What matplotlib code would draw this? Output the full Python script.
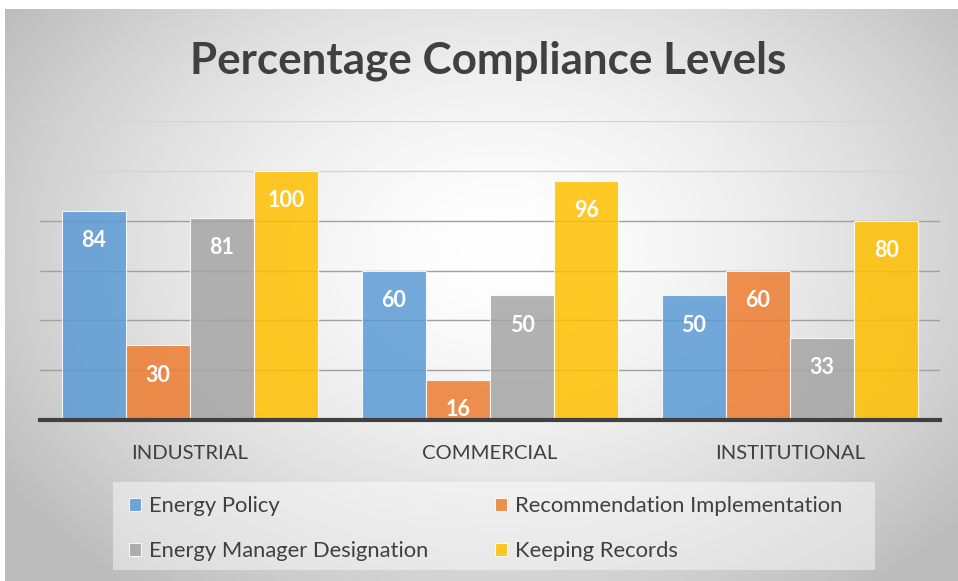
import numpy as np
import matplotlib
matplotlib.use("Agg")
import matplotlib.pyplot as plt
from matplotlib.patches import Rectangle

categories = ["INDUSTRIAL", "COMMERCIAL", "INSTITUTIONAL"]
series_names = ["Energy Policy", "Recommendation Implementation",
                "Energy Manager Designation", "Keeping Records"]
energy_policy = [84, 60, 50]
recommendation_impl = [30, 16, 60]
manager_designation = [81, 50, 33]
keeping_records = [100, 96, 80]
series_values = [energy_policy, recommendation_impl, manager_designation, keeping_records]
colors = ["#5B9BD5", "#ED7D31", "#A5A5A5", "#FFC000"]
yticks = [0, 20, 40, 60, 80, 100, 120]

FONT = ["Lato", "DejaVu Sans"]

fig = plt.figure(figsize=(9.58, 5.81), dpi=100)
fig.patch.set_facecolor("white")

# background radial gradient
bg = fig.add_axes([5/958, 0, 1 - 5/958, (581 - 9)/581])
bg.set_axis_off()
h, w = 300, 500
yy, xx = np.mgrid[0:h, 0:w]
cx, cy = 0.52 * w, 0.42 * h
r = np.sqrt(((xx - cx) / (0.62 * w)) ** 2 + ((yy - cy) / (0.75 * h)) ** 2)
val = np.clip(1.0 - 0.26 * r ** 1.6, 0.74, 1.0)
img = np.dstack([val, val, val])
bg.imshow(img, aspect="auto", extent=[0, 1, 0, 1], origin="upper")
bg.set_xlim(0, 1)
bg.set_ylim(0, 1)

ax = fig.add_axes([40/958, 161/581, 900/958, 299/581])
ax.set_facecolor("none")
x = np.arange(len(categories))
bw = 0.214
offsets = (np.arange(4) - 1.5) * bw
for i, (name, vals, c) in enumerate(zip(series_names, series_values, colors)):
    bars = ax.bar(x + offsets[i], vals, width=bw, color=c, alpha=0.85,
                  edgecolor=(1, 1, 1, 0.6), linewidth=0.8, label=name, zorder=3)
    for b, v in zip(bars, vals):
        ax.annotate(f"{v}", (b.get_x() + b.get_width() / 2, v),
                    xytext=(0, -29), textcoords="offset points",
                    ha="center", va="bottom", color="white",
                    fontsize=15.5, fontweight="bold", family=FONT, zorder=5)

ax.set_xlim(-0.5, 2.5)
ax.set_ylim(0, 120)
ax.set_yticks(yticks)
ax.set_yticklabels([])
ax.tick_params(axis="y", length=0)
ax.tick_params(axis="x", length=0, pad=18)
ax.set_xticks(x)
ax.set_xticklabels(categories, family=FONT, fontsize=14.6, color="#404040")
ax.grid(axis="y", color="#a0a0a0", linewidth=1.0, zorder=0)
gl = ax.get_ygridlines()
for g, t in zip(gl, yticks):
    if t >= 100:
        g.set_color("#d4d4d4")
for s in ["top", "right", "left"]:
    ax.spines[s].set_visible(False)
ax.spines["bottom"].set_color("#404040")
ax.spines["bottom"].set_linewidth(3.0)
ax.spines["bottom"].set_zorder(4)

fig.text(0.510, 0.895, "Percentage Compliance Levels", ha="center", va="center",
         fontsize=31.7, fontweight="bold", color="#404040", family=FONT)

# legend box
fig.patches.append(Rectangle((113/958, 11/581), 762/958, 88/581,
                             transform=fig.transFigure, facecolor="white",
                             alpha=0.45, edgecolor="none", zorder=1))
handles, labels = ax.get_legend_handles_labels()
order = [0, 2, 1, 3]
leg = fig.legend([handles[k] for k in order], [labels[k] for k in order],
                 loc="upper left", bbox_to_anchor=(129/958, (581 - 496)/581),
                 ncol=2, frameon=False, prop={"family": FONT, "size": 15.8},
                 handlelength=0.55, handleheight=0.55, handletextpad=0.35,
                 columnspacing=3.05, labelspacing=1.15, labelcolor="#404040",
                 borderpad=0, borderaxespad=0)

fig.savefig("out.png", dpi=100)
